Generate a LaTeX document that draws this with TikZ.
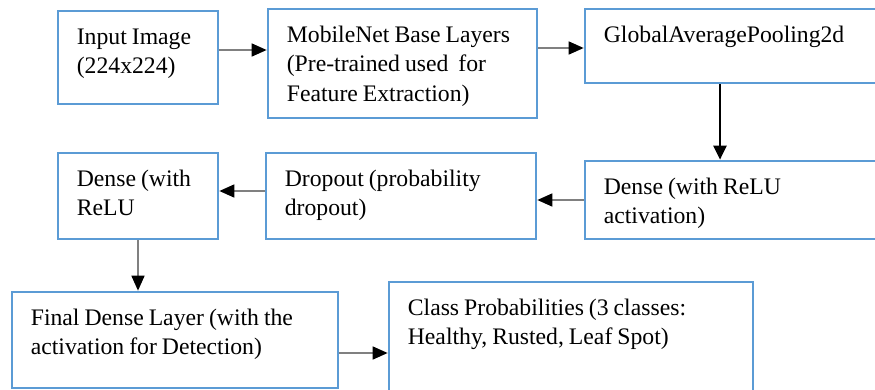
\documentclass[tikz,border=0pt]{standalone}
\usepackage{fontspec}
\setmainfont{Liberation Serif}
\usetikzlibrary{arrows.meta}
\definecolor{boxblue}{RGB}{91,155,213}
\definecolor{arrgray}{RGB}{128,128,128}
\newcommand{\narrowspaces}{\spaceskip=0.21em\relax}
\tikzset{
  box/.style={draw=boxblue, line width=2.7pt, rectangle, inner sep=0pt, fill=white},
  txt/.style={anchor=base west, inner sep=0pt, text width=420pt, align=left,
    font=\fontsize{23.7pt}{29.5pt}\selectfont,
    execute at begin node=\narrowspaces},
  garrow/.style={draw=arrgray, line width=1.6pt, -{Triangle[length=15pt,width=13pt,color=black,fill=black]}},
  barrow/.style={draw=black, line width=2.4pt, -{Triangle[length=14pt,width=13pt,color=black,fill=black]}},
}
\begin{document}
\begin{tikzpicture}[x=1pt,y=-1pt]
\useasboundingbox (0,0) rectangle (875,389);
\clip (0,0) rectangle (875,389);
% boxes
\node[box, minimum width=160pt, minimum height=93pt] (in) at (138,57.5) {};
\node[box, minimum width=269pt, minimum height=109pt] (mb) at (402.5,63.5) {};
\node[box, minimum width=320pt, minimum height=74pt] (gap) at (745,46) {};
\node[box, minimum width=320pt, minimum height=78pt] (dr1) at (745,200) {};
\node[box, minimum width=270pt, minimum height=86pt] (dp) at (401,196) {};
\node[box, minimum width=160pt, minimum height=86pt] (dr2) at (138,196) {};
\node[box, minimum width=326pt, minimum height=96pt] (fin) at (175,340) {};
\node[box, minimum width=364pt, minimum height=130pt] (cls) at (571,347) {};
% texts
\node[txt] (tin) at ([xshift=20pt,yshift=-34.5pt]in.north west) {Input Image\\(224x224)};
\node[txt] (tmb) at ([xshift=20pt,yshift=-34.5pt]mb.north west) {MobileNet Base Layers\\(Pre-trained used\ \ for\\Feature Extraction)};
\node[txt] (tgap) at ([xshift=20pt,yshift=-34.5pt]gap.north west) {GlobalAveragePooling2d};
\node[txt] (tdr1) at ([xshift=20pt,yshift=-34.5pt]dr1.north west) {Dense (with ReLU\\activation)};
\node[txt] (tdp) at ([xshift=20pt,yshift=-34.5pt]dp.north west) {Dropout (probability\\dropout)};
\node[txt] (tdr2) at ([xshift=20pt,yshift=-34.5pt]dr2.north west) {Dense (with\\ReLU};
\node[txt] (tfin) at ([xshift=20pt,yshift=-34.5pt]fin.north west) {Final Dense Layer (with the\\activation for Detection)};
\node[txt] (tcls) at ([xshift=20pt,yshift=-34.5pt]cls.north west) {Class Probabilities (3 classes:\\Healthy, Rusted, Leaf Spot)};
% connectors
\draw[garrow] ([yshift=7.5pt]in.east) -- ([yshift=13.5pt]mb.west);
\draw[garrow] ([yshift=15.5pt]mb.east) -- ([yshift=-2pt]gap.west);
\draw[barrow] (gap.south -| 720,0) -- (dr1.north -| 720,0);
\draw[garrow] (dr1.west) -- ([yshift=-4pt]dp.east);
\draw[garrow] ([yshift=5pt]dp.west) -- ([yshift=5pt]dr2.east);
\draw[garrow] (dr2.south) -- (fin.north -| dr2.south);
\draw[garrow] ([yshift=-13pt]fin.east) -- (cls.west |- {0,353});
\end{tikzpicture}
\end{document}
